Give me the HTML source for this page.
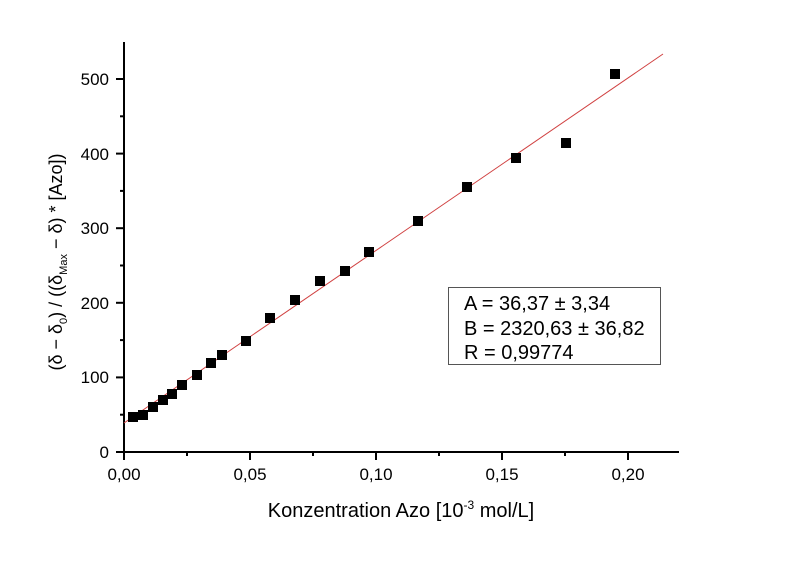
<!DOCTYPE html>
<html><head><meta charset="utf-8"><style>body{margin:0;background:#fff}svg{display:block}text{font-family:"Liberation Sans",sans-serif;fill:#000}</style></head><body>
<svg width="800" height="562" viewBox="0 0 800 562">
<g stroke="#000" stroke-width="2" fill="none">
<line x1="124" y1="42" x2="124" y2="453"/>
<line x1="123" y1="452" x2="679" y2="452"/>
<line x1="116" y1="452" x2="124" y2="452"/><line x1="116" y1="377.4" x2="124" y2="377.4"/><line x1="116" y1="302.8" x2="124" y2="302.8"/><line x1="116" y1="228.2" x2="124" y2="228.2"/><line x1="116" y1="153.6" x2="124" y2="153.6"/><line x1="116" y1="79" x2="124" y2="79"/>
<line x1="120" y1="414.7" x2="124" y2="414.7"/><line x1="120" y1="340.1" x2="124" y2="340.1"/><line x1="120" y1="265.5" x2="124" y2="265.5"/><line x1="120" y1="190.9" x2="124" y2="190.9"/><line x1="120" y1="116.3" x2="124" y2="116.3"/>
<line x1="124" y1="452" x2="124" y2="460"/><line x1="250" y1="452" x2="250" y2="460"/><line x1="376" y1="452" x2="376" y2="460"/><line x1="502" y1="452" x2="502" y2="460"/><line x1="628" y1="452" x2="628" y2="460"/>
<line x1="187" y1="452" x2="187" y2="456"/><line x1="313" y1="452" x2="313" y2="456"/><line x1="439" y1="452" x2="439" y2="456"/><line x1="565" y1="452" x2="565" y2="456"/>
</g>
<g font-size="17" text-anchor="end">
<text x="109" y="458">0</text><text x="109" y="383">100</text><text x="109" y="309">200</text><text x="109" y="234">300</text><text x="109" y="160">400</text><text x="109" y="85">500</text>
</g>
<g font-size="17" text-anchor="middle">
<text x="124" y="480">0,00</text><text x="250" y="480">0,05</text><text x="376" y="480">0,10</text><text x="502" y="480">0,15</text><text x="628" y="480">0,20</text>
</g>
<text x="401" y="517" font-size="20" text-anchor="middle">Konzentration Azo [10<tspan font-size="12" dy="-8">-3</tspan><tspan dy="8"> mol/L]</tspan></text>
<text transform="translate(62,262) rotate(-90)" font-size="18" text-anchor="middle">(δ − δ<tspan font-size="11" dy="5">0</tspan><tspan dy="-5">) / ((δ</tspan><tspan font-size="11" dy="5">Max</tspan><tspan dy="-5"> − δ) * [Azo])</tspan></text>
<line x1="124" y1="423" x2="663" y2="54" stroke="#d04040" stroke-width="1"/>
<g fill="#000">
<rect x="128" y="412" width="10" height="10"/><rect x="138" y="410" width="10" height="10"/><rect x="148" y="402" width="10" height="10"/><rect x="158" y="395" width="10" height="10"/><rect x="167" y="389" width="10" height="10"/><rect x="177" y="380" width="10" height="10"/><rect x="192" y="370" width="10" height="10"/><rect x="206" y="358" width="10" height="10"/><rect x="217" y="350" width="10" height="10"/><rect x="241" y="336" width="10" height="10"/><rect x="265" y="313" width="10" height="10"/><rect x="290" y="295" width="10" height="10"/><rect x="315" y="276" width="10" height="10"/><rect x="340" y="266" width="10" height="10"/><rect x="364" y="247" width="10" height="10"/><rect x="413" y="216" width="10" height="10"/><rect x="462" y="182" width="10" height="10"/><rect x="511" y="153" width="10" height="10"/><rect x="561" y="138" width="10" height="10"/><rect x="610" y="69" width="10" height="10"/>
</g>
<rect x="448.5" y="287.5" width="212" height="77" fill="#fff" stroke="#555" stroke-width="1"/>
<g font-size="20">
<text x="464" y="310">A = 36,37 ± 3,34</text>
<text x="464" y="335">B = 2320,63 ± 36,82</text>
<text x="464" y="359">R = 0,99774</text>
</g>
</svg>
</body></html>
